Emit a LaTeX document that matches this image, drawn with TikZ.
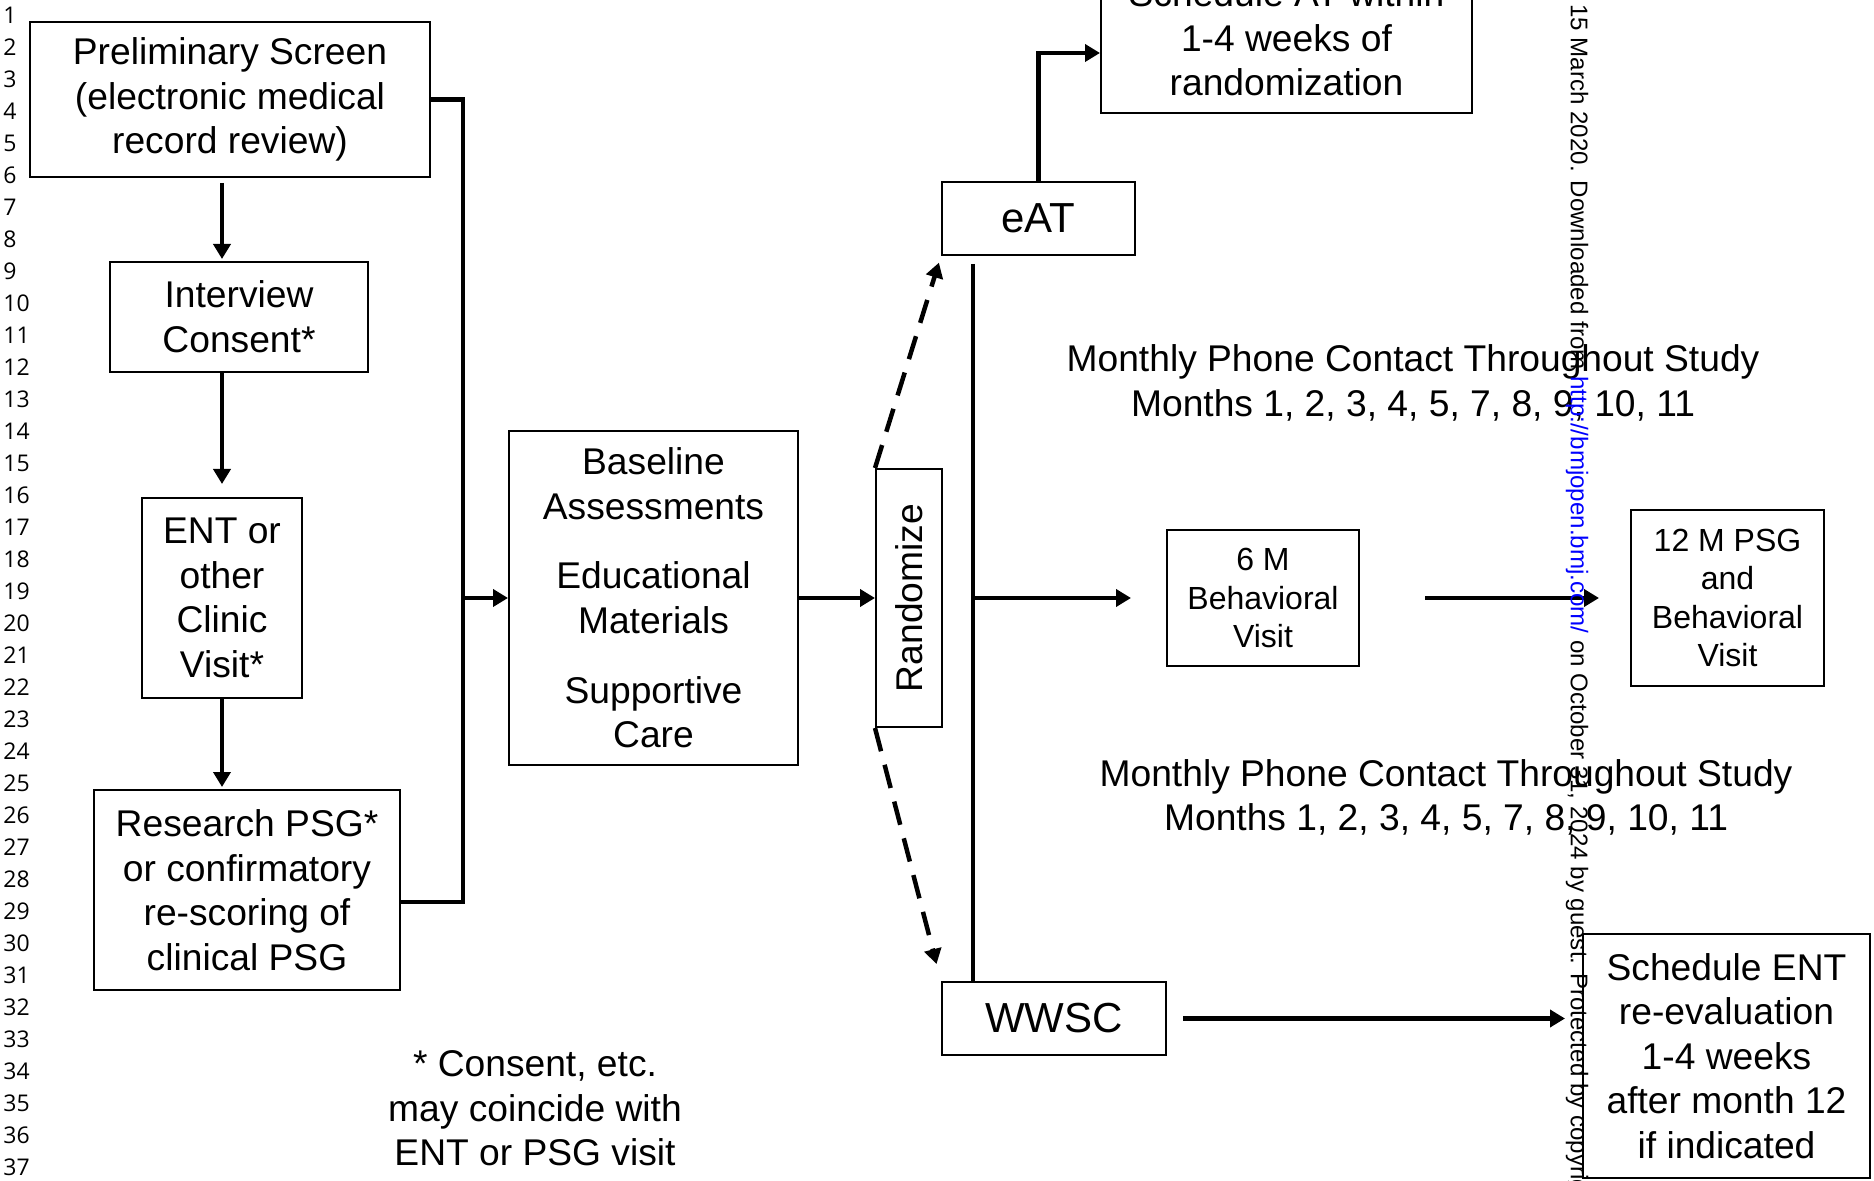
\documentclass[tikz,border=0pt]{standalone}
\usepackage{fontspec}
\setmainfont{Liberation Sans}
\newfontfamily\lnfont{Open Sans}
\usetikzlibrary{arrows.meta,calc}
\definecolor{linkblue}{RGB}{0,0,255}
\begin{document}
\begin{tikzpicture}[x=0.5pt,y=-0.5pt,
  box/.style={draw, line width=1pt, inner sep=0pt, align=center, font=\fontsize{18.6}{22.3}\selectfont},
  sbox/.style={box, font=\fontsize{16}{19.3}\selectfont},
  bbox/.style={box, font=\fontsize{21}{25}\selectfont},
  txt/.style={inner sep=0pt, align=center, font=\fontsize{18.6}{22.3}\selectfont},
  arr/.style={line width=2.25pt, -{Triangle[length=7.5pt,width=8.5pt]}},
  conn/.style={line width=2.25pt},
  dasharr/.style={arr, dash pattern=on 12pt off 7pt},
  lnum/.style={inner sep=0pt, anchor=west, font=\lnfont\fontsize{11.5}{13}\selectfont},
]
\useasboundingbox (0,0) rectangle (1874,1181);
\clip (0,0) rectangle (1874,1181);
\fill[white] (0,0) rectangle (1874,1181);

\foreach \n in {1,...,37} { \node[lnum] (ln\n) at (3,{15+32*(\n-1)}) {\n}; }

\node[box, minimum width=200pt, minimum height=77.5pt] (prelim) at (230,99.5) {Preliminary Screen\\(electronic medical\\record review)};
\node[box, minimum width=129pt, minimum height=55pt] (interview) at (239,317) {Interview\\Consent*};
\node[box, minimum width=80pt, minimum height=100pt] (ent) at (222,598) {ENT or\\other\\Clinic\\Visit*};
\node[box, minimum width=153pt, minimum height=100pt] (research) at (247,890) {Research PSG*\\or confirmatory\\re-scoring of\\clinical PSG};
\node[box, minimum width=144.5pt, minimum height=167pt] (baseline) at (653.5,598) {Baseline\\Assessments\\[12.5pt]Educational\\Materials\\[12.5pt]Supportive\\Care};
\node[box, minimum width=33pt, minimum height=129pt] (rand) at (909,598) {};
\node[txt, rotate=90] (randtxt) at (rand.center) {Randomize};
\node[bbox, minimum width=96.5pt, minimum height=36.5pt] (eat) at (1038.5,218.5) {eAT};
\node[box, minimum width=185.5pt, minimum height=75pt] (schedat) at (1286.5,38) {Schedule AT within\\1-4 weeks of\\randomization};
\node[bbox, minimum width=112pt, minimum height=36.5pt] (wwsc) at (1054,1018.5) {WWSC};
\node[sbox, minimum width=96pt, minimum height=68pt] (sixm) at (1263,598) {6 M\\Behavioral\\Visit};
\node[sbox, minimum width=96.5pt, minimum height=88pt] (twelvem) at (1727.5,598) {12 M PSG\\and\\Behavioral\\Visit};
\node[box, minimum width=143.5pt, minimum height=122pt] (schedent) at (1726.5,1056) {Schedule ENT\\re-evaluation\\1-4 weeks\\after month 12\\if indicated};
\node[txt] (phone1) at (1413,383) {Monthly Phone Contact Throughout Study\\Months 1, 2, 3, 4, 5, 7, 8, 9, 10, 11};
\node[txt] (phone2) at (1446,797.5) {Monthly Phone Contact Throughout Study\\Months 1, 2, 3, 4, 5, 7, 8, 9, 10, 11};
\node[txt] (note) at (535,1108.5) {* Consent, etc.\\may coincide with\\ENT or PSG visit};

\draw[arr, shorten <=2.5pt, shorten >=1pt] (ent.center |- prelim.south) -- (ent.center |- interview.north);
\draw[arr, shorten >=6.5pt] (ent.center |- interview.south) -- (ent.north);
\draw[arr, shorten >=1pt] (ent.south) -- (research.north -| ent.center);

\coordinate (bt) at ($(prelim.east)+(32,0)$);
\coordinate (rj) at ($(research.east)+(0,12)$);
\draw[conn] (prelim.east) -- (bt) -- (bt |- rj) -- (rj);
\draw[arr] (bt |- baseline.west) -- (baseline.west);
\draw[arr] (baseline.east) -- (rand.west);
\draw[dasharr, shorten >=3.5pt] (rand.north west) -- (eat.south west);
\draw[dasharr, shorten >=8.8pt] (rand.south west) -- (wwsc.north west);

\coordinate (vt) at ($(eat.south west)+(32,8)$);
\draw[conn] (vt) -- (vt |- wwsc.north);
\draw[arr, shorten >=17.5pt] (vt |- sixm.west) -- (sixm.west);
\draw[arr, shorten <=32.5pt, shorten >=15.5pt] (sixm.east) -- (twelvem.west);
\draw[arr] (eat.north) |- ($(schedat.west)+(0,15)$);
\draw[arr, shorten <=8pt, shorten >=8.5pt] (wwsc.east) -- (schedent.west |- wwsc.east);

\node[rotate=-90, anchor=west, inner sep=0pt, font=\fontsize{12.05}{14}\selectfont] (wm) at (1577,4) {15 March 2020. Downloaded from \textcolor{linkblue}{http://bmjopen.bmj.com/} on October 31, 2024 by guest. Protected by copyright.};
\end{tikzpicture}
\end{document}
